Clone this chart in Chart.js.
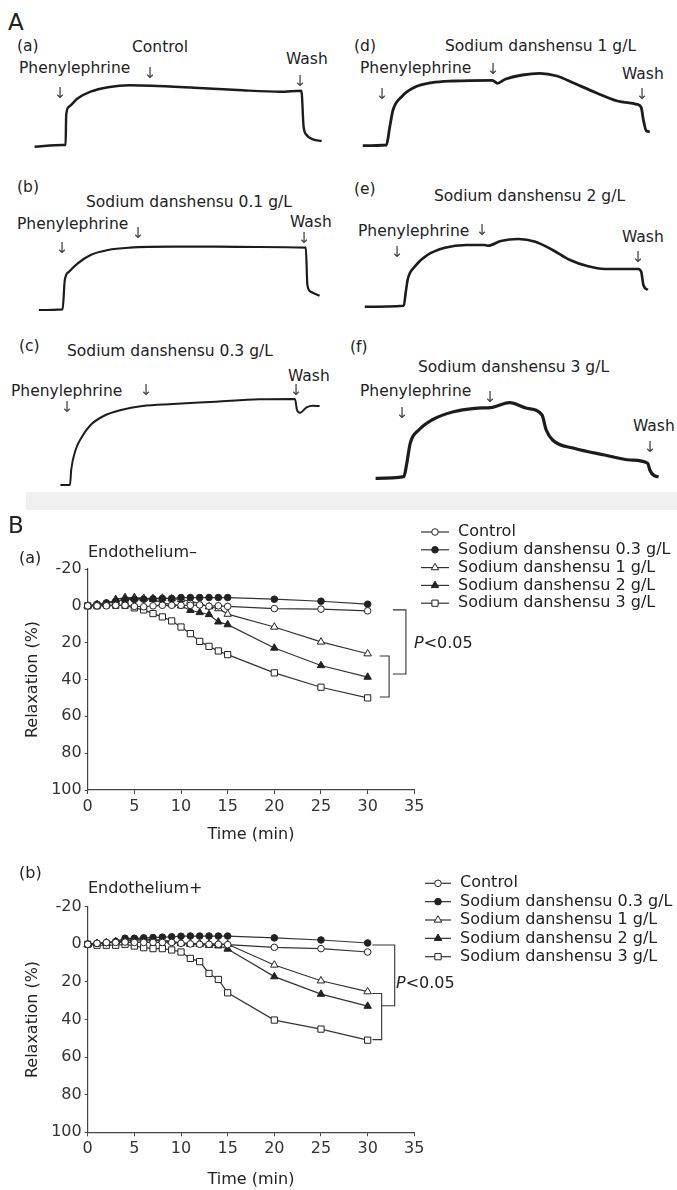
<!DOCTYPE html>
<html>
<head>
<meta charset="utf-8">
<title>Sodium danshensu relaxation</title>
<script src="https://cdn.jsdelivr.net/npm/chart.js@4.4.1/dist/chart.umd.min.js"></script>
<style>
  html, body { margin: 0; padding: 0; background: #fff; }
  body { position: relative; width: 677px; height: 1190px; overflow: hidden;
         font-family: "DejaVu Sans", sans-serif; color: #222; }
  canvas { position: absolute; }
  .lbl { position: absolute; white-space: nowrap; font-size: 16px; line-height: 1; transform: translateY(-50%); }
  .tr { font-size: 15.5px; }
  .big { font-size: 23px; }
  .arr { position: absolute; font-family: "DejaVu Sans"; font-size: 15px; line-height: 1; color: #444;
         transform: translate(-50%, -50%); filter: grayscale(1); }
  .band { position: absolute; left: 26px; top: 492px; width: 651px; height: 18px; background: #f0f0f0; }
</style>
</head>
<body>
<!-- A: tension recordings -->
<div class="lbl big" style="left:8px;top:22px">A</div>

<div class="lbl tr" style="left:17px;top:47px">(a)</div>
<div class="lbl tr" style="left:132px;top:48px">Control</div>
<div class="lbl tr" style="left:19px;top:69px">Phenylephrine</div>
<div class="arr" style="left:60px;top:93px">↓&#xFE0E;</div>
<div class="arr" style="left:150px;top:73px">↓&#xFE0E;</div>
<div class="lbl tr" style="left:286px;top:60px">Wash</div>
<div class="arr" style="left:300px;top:81px">↓&#xFE0E;</div>

<div class="lbl tr" style="left:354px;top:47px">(d)</div>
<div class="lbl tr" style="left:445px;top:47px">Sodium danshensu 1 g/L</div>
<div class="lbl tr" style="left:360px;top:69px">Phenylephrine</div>
<div class="arr" style="left:382px;top:94px">↓&#xFE0E;</div>
<div class="arr" style="left:493px;top:69px">↓&#xFE0E;</div>
<div class="lbl tr" style="left:622px;top:75px">Wash</div>
<div class="arr" style="left:642px;top:94px">↓&#xFE0E;</div>

<div class="lbl tr" style="left:17px;top:188px">(b)</div>
<div class="lbl tr" style="left:86px;top:203px">Sodium danshensu 0.1 g/L</div>
<div class="lbl tr" style="left:17px;top:225px">Phenylephrine</div>
<div class="arr" style="left:62px;top:248px">↓&#xFE0E;</div>
<div class="arr" style="left:138px;top:233px">↓&#xFE0E;</div>
<div class="lbl tr" style="left:290px;top:223px">Wash</div>
<div class="arr" style="left:304px;top:238px">↓&#xFE0E;</div>

<div class="lbl tr" style="left:354px;top:190px">(e)</div>
<div class="lbl tr" style="left:434px;top:197px">Sodium danshensu 2 g/L</div>
<div class="lbl tr" style="left:358px;top:232px">Phenylephrine</div>
<div class="arr" style="left:397px;top:252px">↓&#xFE0E;</div>
<div class="arr" style="left:482px;top:230px">↓&#xFE0E;</div>
<div class="lbl tr" style="left:622px;top:238px">Wash</div>
<div class="arr" style="left:638px;top:257px">↓&#xFE0E;</div>

<div class="lbl tr" style="left:19px;top:347px">(c)</div>
<div class="lbl tr" style="left:67px;top:352px">Sodium danshensu 0.3 g/L</div>
<div class="lbl tr" style="left:11px;top:392px">Phenylephrine</div>
<div class="arr" style="left:67px;top:407px">↓&#xFE0E;</div>
<div class="arr" style="left:146px;top:390px">↓&#xFE0E;</div>
<div class="lbl tr" style="left:288px;top:377px">Wash</div>
<div class="arr" style="left:296px;top:390px">↓&#xFE0E;</div>

<div class="lbl tr" style="left:350px;top:348px">(f)</div>
<div class="lbl tr" style="left:418px;top:368px">Sodium danshensu 3 g/L</div>
<div class="lbl tr" style="left:360px;top:392px">Phenylephrine</div>
<div class="arr" style="left:402px;top:413px">↓&#xFE0E;</div>
<div class="arr" style="left:490px;top:397px">↓&#xFE0E;</div>
<div class="lbl tr" style="left:633px;top:427px">Wash</div>
<div class="arr" style="left:650px;top:447px">↓&#xFE0E;</div>

<canvas id="trA" style="left:20px;top:60px" width="320" height="100"></canvas>
<canvas id="trD" style="left:350px;top:60px" width="320" height="100"></canvas>
<canvas id="trB" style="left:20px;top:220px" width="320" height="100"></canvas>
<canvas id="trE" style="left:350px;top:220px" width="320" height="100"></canvas>
<canvas id="trC" style="left:20px;top:390px" width="320" height="100"></canvas>
<canvas id="trF" style="left:350px;top:390px" width="320" height="100"></canvas>

<div class="band"></div>

<!-- B: relaxation curves -->
<canvas id="relaxMinus" style="left:0;top:515px" width="677" height="335"></canvas>
<canvas id="relaxPlus" style="left:0;top:860px" width="677" height="330"></canvas>

<div class="lbl big" style="left:8px;top:525px">B</div>
<div class="lbl" style="left:19px;top:558px">(a)</div>
<div class="lbl" style="left:88px;top:552px">Endothelium–</div>
<div class="lbl" style="left:414px;top:643px"><i>P</i>&lt;0.05</div>
<div class="lbl" style="left:19px;top:873px">(b)</div>
<div class="lbl" style="left:88px;top:888px">Endothelium+</div>
<div class="lbl" style="left:396px;top:983px"><i>P</i>&lt;0.05</div>

<script>
// ---- A: traces (time a.u., tension % of panel height)
const traceA_t = [7.3, 21.3, 22.8, 23.1, 24.5, 28.9, 35.3, 44, 54.8, 65.6, 87.2, 108.8, 130.3, 140.7, 141.8, 143.3, 146.5, 150.8];
const traceA_v = [13.3, 15, 15, 45, 53.3, 61.7, 68.3, 72.7, 74.7, 74.3, 72.3, 70, 68.3, 69.3, 33.3, 25, 20.7, 19];

const traceB_t = [9.4, 21.3, 22.4, 24.5, 28.9, 35.3, 44, 54.8, 76.4, 98, 119.5, 142.9, 143.7, 145.4, 149.8];
const traceB_v = [10, 10.7, 40, 48.3, 56.7, 65, 70, 72.3, 73.3, 73.3, 73, 72.3, 35, 28.3, 24.3];

const traceC_t = [20.2, 25, 25.6, 27.8, 31, 35.3, 41.8, 50.5, 61.2, 76.4, 98, 119.5, 137.5, 138.5, 140, 143.3, 146.5, 149.8];
const traceC_v = [5, 5, 20, 40, 53.3, 65, 74, 80, 84, 86, 88.3, 90.7, 91, 80, 77.3, 82.7, 84.3, 84];

const traceD_t = [6.4, 18.2, 19.9, 21.5, 25.8, 32.3, 40.9, 51.7, 71.2, 73.7, 77.6, 86.2, 94.9, 103.5, 112.1, 123, 133.7, 143.4, 145.6, 146.7, 148.2, 149.9];
const traceD_v = [14.3, 15, 33.3, 50, 63.3, 72.7, 77.3, 79, 79.7, 76.7, 80.7, 85, 86.7, 84, 76.7, 67.3, 59, 55.7, 52.7, 40, 29, 28.3];

const traceE_t = [7.4, 26.9, 27.9, 29, 32.3, 38.7, 47.4, 58.2, 66.8, 69, 75.4, 84.1, 92.7, 101.3, 110, 118.6, 127.3, 144.1, 145.6, 146.7, 148.9];
const traceE_v = [13.3, 14.3, 28.3, 41.7, 53.3, 65, 72.3, 75, 75, 74.3, 79, 81, 78.3, 70, 60, 54, 51, 51, 48.3, 35, 30];

const traceF_t = [12.8, 26.9, 28.4, 30.1, 34.4, 40.9, 51.7, 62.5, 71.2, 79.8, 88.4, 96, 98.1, 101.3, 112.1, 127.3, 140.2, 148.9, 149.9, 152.1, 154.3];
const traceF_v = [11.7, 13.3, 26.7, 46.7, 60, 70, 78.3, 81.7, 82.7, 87.3, 81.7, 75, 60, 50, 41.7, 35, 30, 26.7, 20, 14.3, 13.3];

// ---- B: relaxation (%) versus time (min)
const timeMin = [0, 1, 2, 3, 4, 5, 6, 7, 8, 9, 10, 11, 12, 13, 14, 15, 20, 25, 30];
const seriesNames = ['Control', 'Sodium danshensu 0.3 g/L', 'Sodium danshensu 1 g/L', 'Sodium danshensu 2 g/L', 'Sodium danshensu 3 g/L'];

// Endothelium-
const minusControl = [0, 0, 0, -0.3, -0.3, 0.3, 0.5, 0, -0.3, -0.3, -0.3, -0.3, -0.5, 0.2, 0, 0.3, 1.5, 1.8, 2.7];
const minusSd03 = [0, -0.9, -1.6, -2.5, -3.3, -3.5, -3.6, -3.8, -4, -4, -4.5, -4.5, -4.5, -4.5, -4.5, -4.5, -3.6, -2.5, -0.9];
const minusSd1 = [0, -0.5, -1, -2.5, -3.8, -4, -4, -4, -4.2, -3.8, -3.5, -2.5, -1.2, 0.5, 1.5, 4.5, 11.5, 19.6, 26];
const minusSd2 = [0, -0.5, -1, -3.5, -4.5, -4.5, -4, -3.5, -1.6, -0.7, 0, 2.4, 3.6, 4.7, 8.7, 10.2, 22.9, 32.4, 38.7];
const minusSd3 = [0, 0, -0.5, -0.3, -0.2, 1.1, 2.2, 4.2, 6, 8.2, 11.5, 15.1, 19.3, 22, 24.5, 26.5, 36.4, 44.2, 50];

// Endothelium+
const plusControl = [0, -0.5, -0.9, -1, -1.2, -1, -1, -1, -1, -1, -0.5, -0.2, 0, 0, 0, 0.2, 1.6, 2.3, 4.1];
const plusSd03 = [0, -0.5, -0.9, -1.5, -3.2, -3.2, -3.4, -3.6, -3.8, -4, -4.3, -4.4, -4.4, -4.4, -4.4, -4.4, -3.4, -2.3, -0.7];
const plusSd1 = [0, -0.5, -0.9, -1.2, -2, -2.2, -2.2, -2.2, -2, -1.5, -0.8, -0.5, -0.3, -0.3, -0.3, 0, 11, 19.4, 25.2];
const plusSd2 = [0, -0.5, -0.9, -1.5, -2.7, -2.7, -2.7, -2.5, -2.2, -1.5, -0.5, 0, 0, 0.5, 0.8, 2.5, 17.2, 26.5, 32.9];
const plusSd3 = [0, 0.5, 0.5, 0.5, 0, 0.9, 1.8, 2.3, 2.3, 3, 4.1, 7.5, 9.2, 15.5, 18.7, 25.8, 40.3, 45.1, 51];

// significance brackets, in axis units (time, relaxation)
const bracketMinus = [
  [[32.7, 2.2], [34.1, 2.2], [34.1, 37], [32.7, 37]],
  [[31.3, 27.2], [32.3, 27.2], [32.3, 49.5], [31.3, 49.5]]
];
const bracketPlus = [
  [[30.5, 0.4], [32.9, 0.4], [32.9, 32.7], [31.5, 32.7]],
  [[30.5, 26.2], [31.5, 26.2], [31.5, 50.7], [30.5, 50.7]]
];

Chart.defaults.font.family = '"DejaVu Sans", sans-serif';
Chart.defaults.color = '#333';

// marker look for each series
const markStyle = ['circle', 'circle', 'triangle', 'triangle', 'rect'];
const markFill = ['#fff', '#222', '#fff', '#222', '#fff'];
const markSize = [3.3, 3.3, 4.3, 4.3, 4.4];

function traceChart(id, t, v, lw) {
  new Chart(document.getElementById(id), {
    type: 'line',
    data: {
      datasets: [{
        data: t.map((x, i) => ({ x: x, y: v[i] })),
        borderColor: '#1c1c1c',
        borderWidth: lw,
        pointRadius: 0,
        cubicInterpolationMode: 'monotone',
        clip: false
      }]
    },
    options: {
      responsive: false,
      animation: false,
      layout: { padding: 0 },
      plugins: { legend: { display: false }, tooltip: { enabled: false } },
      scales: {
        x: { type: 'linear', display: false, min: 0, max: 160 },
        y: { display: false, min: 0, max: 100 }
      }
    }
  });
}

traceChart('trA', traceA_t, traceA_v, 2.4);
traceChart('trB', traceB_t, traceB_v, 2.2);
traceChart('trC', traceC_t, traceC_v, 2);
traceChart('trD', traceD_t, traceD_v, 2.8);
traceChart('trE', traceE_t, traceE_v, 2.6);
traceChart('trF', traceF_t, traceF_v, 3.2);

// legend drawn beside the plot
const sideLegend = {
  id: 'sideLegend',
  afterDraw(chart, args, o) {
    const ctx = chart.ctx;
    ctx.save();
    chart.data.datasets.forEach((ds, i) => {
      const y = o.top + i * o.step;
      ctx.strokeStyle = '#333';
      ctx.lineWidth = 1.2;
      ctx.beginPath();
      ctx.moveTo(o.x, y);
      ctx.lineTo(o.x + o.len, y);
      ctx.stroke();
      ctx.fillStyle = ds.pointBackgroundColor;
      ctx.strokeStyle = '#222';
      ctx.lineWidth = 1;
      Chart.helpers.drawPoint(ctx, { pointStyle: ds.pointStyle, radius: ds.pointRadius, rotation: 0, borderWidth: 1 }, o.x + o.len / 2, y);
      ctx.fillStyle = '#222';
      ctx.font = '16px "DejaVu Sans"';
      ctx.textBaseline = 'middle';
      ctx.fillText(ds.label, o.x + o.len + o.gap, y);
    });
    ctx.restore();
  }
};

// P<0.05 brackets
const pBracket = {
  id: 'pBracket',
  afterDatasetsDraw(chart, args, o) {
    const xs = chart.scales.x, ys = chart.scales.y, ctx = chart.ctx;
    ctx.save();
    ctx.strokeStyle = '#333';
    ctx.lineWidth = 1.1;
    o.paths.forEach(p => {
      ctx.beginPath();
      p.forEach(([x, y], i) => {
        const px = xs.getPixelForValue(x), py = ys.getPixelForValue(y);
        if (i === 0) ctx.moveTo(px, py); else ctx.lineTo(px, py);
      });
      ctx.stroke();
    });
    ctx.restore();
  }
};

function relaxChart(id, series, brackets, padTop, xAxisH, titlePadB, legendOpts) {
  const datasets = series.map((vals, i) => ({
    label: seriesNames[i],
    data: timeMin.map((t, j) => ({ x: t, y: vals[j] })),
    borderColor: '#333',
    borderWidth: 1.2,
    pointStyle: markStyle[i],
    pointRadius: markSize[i],
    pointBackgroundColor: markFill[i],
    pointBorderColor: '#222',
    pointBorderWidth: 1,
    tension: 0,
    clip: false
  }));
  new Chart(document.getElementById(id), {
    type: 'line',
    data: { datasets: datasets },
    options: {
      responsive: false,
      animation: false,
      layout: { padding: { top: padTop, right: 262.7, left: 0, bottom: 0 } },
      plugins: {
        legend: { display: false },
        tooltip: { enabled: false },
        sideLegend: legendOpts,
        pBracket: { paths: brackets }
      },
      scales: {
        x: {
          type: 'linear', min: 0, max: 35,
          ticks: { stepSize: 5, font: { size: 16 }, color: '#333', padding: 3, maxRotation: 0 },
          grid: { display: true, drawOnChartArea: false, drawTicks: true, tickLength: 4, color: '#444' },
          border: { color: '#444', width: 1.2 },
          title: { display: true, text: 'Time (min)', font: { size: 16 }, color: '#222', padding: { top: 0, bottom: titlePadB } },
          afterFit: s => { s.height = xAxisH; }
        },
        y: {
          min: -20, max: 100, reverse: true,
          ticks: { stepSize: 20, font: { size: 16 }, color: '#333', padding: 3 },
          grid: { display: true, drawOnChartArea: false, drawTicks: true, tickLength: 3, color: '#444' },
          border: { color: '#444', width: 1.2 },
          title: { display: true, text: 'Relaxation (%)', font: { size: 16 }, color: '#222', padding: { top: 23, bottom: 0 } },
          afterFit: s => { s.width = 87.7; }
        }
      }
    },
    plugins: [sideLegend, pBracket]
  });
}

relaxChart('relaxMinus', [minusControl, minusSd03, minusSd1, minusSd2, minusSd3], bracketMinus,
  54, 60, 5.4, { x: 421, len: 28, gap: 9, top: 17, step: 17.8 });
relaxChart('relaxPlus', [plusControl, plusSd03, plusSd1, plusSd2, plusSd3], bracketPlus,
  46.7, 57.7, 0.4, { x: 425, len: 26, gap: 9, top: 23.3, step: 18.35 });
</script>
</body>
</html>
